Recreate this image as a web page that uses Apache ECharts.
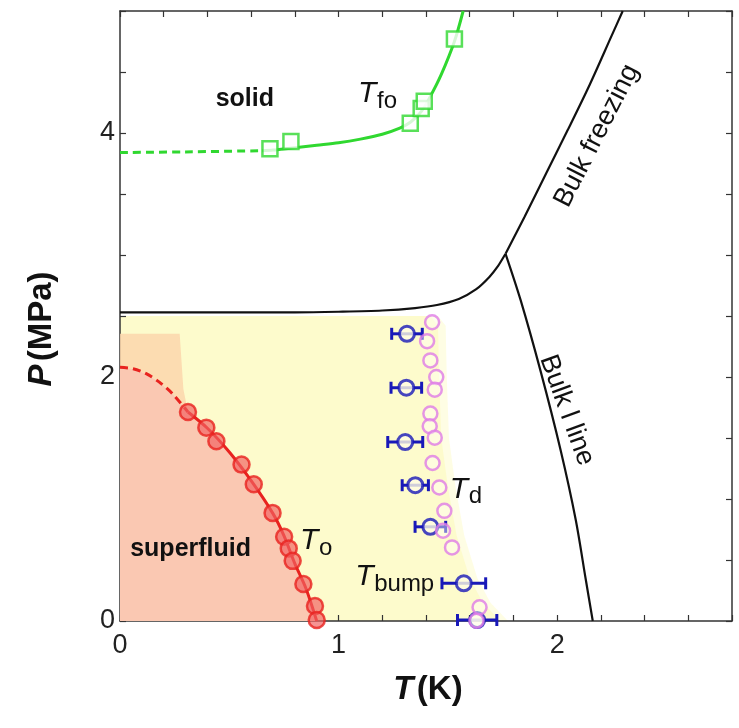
<!DOCTYPE html>
<html>
<head>
<meta charset="utf-8">
<script src="https://cdn.jsdelivr.net/npm/echarts@6/dist/echarts.min.js"></script>
<style>
  html, body { margin: 0; padding: 0; background: #fff; }
  #chart { width: 739px; height: 728px; }
</style>
</head>
<body>
<div id="chart"></div>
<script>
// ---------- axis ticks ----------
const xTickLabels = [0, 1, 2];
const yTickLabels = [0, 2, 4];

// ---------- T_fo : freezing onset (open squares) ----------
const tfoT = [0.686, 0.782, 1.328, 1.378, 1.392, 1.530];
const tfoP = [3.87, 3.93, 4.08, 4.20, 4.26, 4.77];
const tfoDashT = [0, 0.30, 0.65];
const tfoDashP = [3.84, 3.845, 3.855];
const tfoLineT = [0.65, 0.70, 0.80, 0.90, 1.00, 1.10, 1.20, 1.28, 1.33, 1.38, 1.42, 1.47, 1.53, 1.57];
const tfoLineP = [3.855, 3.86, 3.88, 3.90, 3.92, 3.95, 3.99, 4.04, 4.09, 4.18, 4.30, 4.48, 4.75, 5.00];

// ---------- T_o : superfluid onset (filled circles) ----------
const toT = [0.311, 0.395, 0.441, 0.556, 0.612, 0.698, 0.751, 0.772, 0.790, 0.839, 0.892, 0.900];
const toP = [1.713, 1.585, 1.473, 1.282, 1.121, 0.886, 0.690, 0.595, 0.493, 0.303, 0.123, 0.008];
const toDashT = [0, 0.06, 0.12, 0.18, 0.24, 0.311];
const toDashP = [2.08, 2.068, 2.027, 1.958, 1.863, 1.713];
const toLineT = [0.311, 0.40, 0.50, 0.60, 0.70, 0.75, 0.80, 0.85, 0.90];
const toLineP = [1.713, 1.58, 1.385, 1.15, 0.88, 0.70, 0.47, 0.27, 0.0];

// ---------- T_d (open circles) ----------
const tdT = [1.428, 1.405, 1.420, 1.447, 1.440, 1.420, 1.417, 1.440, 1.430, 1.461, 1.484, 1.478, 1.519, 1.645, 1.631];
const tdP = [2.449, 2.294, 2.136, 1.999, 1.896, 1.700, 1.596, 1.503, 1.295, 1.094, 0.903, 0.740, 0.603, 0.112, 0.002];

// ---------- T_bump (open circles with horizontal error) ----------
const tbT = [1.313, 1.310, 1.305, 1.351, 1.420, 1.573, 1.634];
const tbP = [2.354, 1.912, 1.467, 1.113, 0.772, 0.309, 0.008];
const tbErr = [0.07, 0.07, 0.08, 0.06, 0.07, 0.10, 0.09];

// ---------- bulk 4He phase boundaries ----------
const meltT = [0, 0.80, 1.00, 1.20, 1.35, 1.45, 1.55, 1.63, 1.69, 1.73, 1.764];
const meltP = [2.53, 2.53, 2.535, 2.545, 2.565, 2.59, 2.64, 2.72, 2.82, 2.91, 3.01];
const freezeT = [1.764, 1.85, 1.95, 2.05, 2.15, 2.25, 2.30];
const freezeP = [3.01, 3.31, 3.67, 4.03, 4.40, 4.80, 5.00];
const lambdaT = [1.764, 1.833, 1.924, 2.016, 2.085, 2.131, 2.163];
const lambdaP = [3.01, 2.63, 2.05, 1.40, 0.83, 0.34, 0.0];

// ---------- shaded regions ----------
const yellowT = [0, 0, 1.42, 1.455, 1.46, 1.47, 1.50, 1.54, 1.60, 1.66, 1.74];
const yellowP = [0, 2.50, 2.50, 2.42, 2.00, 1.50, 1.10, 0.70, 0.35, 0.15, 0];
const blockT = [0, 0, 0.273, 0.29, 0.311];
const blockP = [2.08, 2.355, 2.355, 1.90, 1.713];

// ---------- styling ----------
const FONT = '"Liberation Sans", Arial, sans-serif';
const GREEN = '#30d830';
const RED = '#e8231f';
const BLUE = '#1818b8';
const PINK = '#de7ce6';
const BLACK = '#111';

const pairs = (ts, ps) => ts.map((t, i) => [t, ps[i]]);
const isTick = (list) => (v) => {
  const r = Math.round(v * 1000) / 1000;
  return list.indexOf(r) >= 0 ? String(r) : '';
};

function polygonSeries(pts, fill, z) {
  return {
    type: 'custom', z: z, silent: true, clip: true,
    data: [[0, 0]],
    renderItem: (params, api) => ({
      type: 'polygon',
      shape: { points: pts.map(p => api.coord(p)) },
      style: { fill: fill }
    })
  };
}

function lineSeries(pts, color, dashed, width) {
  return {
    type: 'line', data: pts, symbol: 'none', smooth: 0.3, silent: true, z: 3,
    lineStyle: { color: color, width: width || 3, type: dashed ? [8, 5] : 'solid' }
  };
}

const yellowPts = pairs(yellowT, yellowP);
const yellowSoft = yellowPts.map(([t, p]) => [t === 0 ? t : t + 0.035, p]);
const salmonPts = [[0, 0]].concat(pairs(toDashT, toDashP), pairs(toLineT, toLineP).slice(1));
const blockPts = pairs(blockT, blockP).concat(pairs(toDashT, toDashP).reverse().slice(1));

const axisBase = {
  type: 'value',
  axisLine: { show: true, onZero: false, lineStyle: { color: '#333', width: 1.5 } },
  axisTick: { show: true, inside: true, length: 6, lineStyle: { color: '#333', width: 1.2 } },
  splitLine: { show: false }
};

const chart = echarts.init(document.getElementById('chart'), null, { renderer: 'canvas' });

chart.setOption({
  animation: false,
  backgroundColor: '#fff',
  grid: { left: 120, top: 11, right: 7, bottom: 107 },
  xAxis: [
    Object.assign({}, axisBase, {
      min: 0, max: 2.8, interval: 0.2, position: 'bottom',
      axisLabel: { formatter: isTick(xTickLabels), fontSize: 27, color: '#222', fontFamily: FONT, margin: 11 }
    }),
    Object.assign({}, axisBase, {
      min: 0, max: 2.8, interval: 0.2, position: 'top', axisLabel: { show: false }
    })
  ],
  yAxis: [
    Object.assign({}, axisBase, {
      min: 0, max: 5, interval: 0.5, position: 'left',
      axisLabel: { formatter: isTick(yTickLabels), fontSize: 27, color: '#222', fontFamily: FONT, margin: 5 }
    }),
    Object.assign({}, axisBase, {
      min: 0, max: 5, interval: 0.5, position: 'right', axisLabel: { show: false }
    })
  ],
  series: [
    polygonSeries(yellowSoft, 'rgba(253,251,205,0.55)', 0),
    polygonSeries(yellowPts, 'rgb(253,251,204)', 0),
    polygonSeries(blockPts, 'rgba(251,214,172,0.85)', 1),
    polygonSeries(salmonPts, 'rgb(250,200,178)', 1),

    lineSeries(pairs(meltT, meltP), BLACK, false, 2.2),
    lineSeries(pairs(freezeT, freezeP), BLACK, false, 2.2),
    lineSeries(pairs(lambdaT, lambdaP), BLACK, false, 2.2),

    lineSeries(pairs(tfoDashT, tfoDashP), GREEN, true),
    lineSeries(pairs(tfoLineT, tfoLineP), GREEN, false),
    lineSeries(pairs(toDashT, toDashP), RED, true),
    lineSeries(pairs(toLineT, toLineP), RED, false),

    {
      type: 'scatter', data: pairs(tfoT, tfoP), symbol: 'rect', symbolSize: 15, clip: false, z: 5,
      itemStyle: { color: '#fff', borderColor: GREEN, borderWidth: 2.5 }
    },
    {
      type: 'scatter', data: pairs(toT, toP), symbol: 'circle', symbolSize: 16, clip: false, z: 5,
      itemStyle: { color: 'rgba(240,96,96,0.85)', borderColor: RED, borderWidth: 2.5 }
    },
    {
      type: 'custom', z: 5, clip: false,
      data: tbT.map((t, i) => [t, tbP[i], tbErr[i]]),
      encode: { x: 0, y: 1 },
      renderItem: (params, api) => {
        const t = api.value(0), p = api.value(1), e = api.value(2);
        const a = api.coord([t - e, p]), b = api.coord([t + e, p]);
        const h = 6, st = { stroke: BLUE, lineWidth: 3 };
        return {
          type: 'group', children: [
            { type: 'line', shape: { x1: a[0], y1: a[1], x2: b[0], y2: b[1] }, style: st },
            { type: 'line', shape: { x1: a[0], y1: a[1] - h, x2: a[0], y2: a[1] + h }, style: st },
            { type: 'line', shape: { x1: b[0], y1: b[1] - h, x2: b[0], y2: b[1] + h }, style: st }
          ]
        };
      }
    },
    {
      type: 'scatter', data: pairs(tbT, tbP), symbol: 'circle', symbolSize: 15, clip: false, z: 6,
      itemStyle: { color: '#fffde2', borderColor: BLUE, borderWidth: 3 }
    },
    {
      type: 'scatter', data: pairs(tdT, tdP), symbol: 'circle', symbolSize: 14, clip: false, z: 7,
      itemStyle: { color: 'rgba(255,255,245,0.55)', borderColor: PINK, borderWidth: 2.5 }
    }
  ]
});

// ---------- text annotations ----------
const toPx = (t, p) => chart.convertToPixel({ xAxisIndex: 0, yAxisIndex: 0 }, [t, p]);

function plain(text, at, font, rotation) {
  const [x, y] = toPx(at[0], at[1]);
  return {
    type: 'text', x: x, y: y, rotation: rotation || 0, z: 20,
    style: { text: text, font: font, fill: BLACK, align: 'center', verticalAlign: 'middle' }
  };
}

function symbolLabel(sub, at) {
  const [x, y] = toPx(at[0], at[1]);
  return [
    { type: 'text', x: x, y: y, z: 20,
      style: { text: 'T', font: 'italic 30px ' + FONT, fill: BLACK, align: 'left', verticalAlign: 'middle' } },
    { type: 'text', x: x + 19, y: y + 7, z: 20,
      style: { text: sub, font: '24px ' + FONT, fill: BLACK, align: 'left', verticalAlign: 'middle' } }
  ];
}

const graphics = [
  plain('solid', [0.571, 4.28], 'bold 25px ' + FONT),
  plain('superfluid', [0.323, 0.589], 'bold 25px ' + FONT),
  plain('Bulk freezing', [2.181, 3.977], '27px ' + FONT, 63 * Math.PI / 180),
  plain('Bulk l line', [2.044, 1.727], '27px ' + FONT, -70 * Math.PI / 180)
].concat(
  symbolLabel('fo', [1.089, 4.32]),
  symbolLabel('o', [0.823, 0.655]),
  symbolLabel('d', [1.509, 1.08]),
  symbolLabel('bump', [1.076, 0.36])
);

// axis titles
const titleRich = {
  i: { font: 'italic bold 33px ' + FONT, fill: BLACK },
  b: { font: 'bold 33px ' + FONT, fill: BLACK }
};
graphics.push({
  type: 'text', x: 428, y: 690, z: 20,
  style: { text: '{i|T} {b|(K)}', align: 'center', verticalAlign: 'middle', rich: titleRich }
});
graphics.push({
  type: 'text', x: 42, y: 329, z: 20, rotation: Math.PI / 2,
  style: { text: '{i|P} {b|(MPa)}', align: 'center', verticalAlign: 'middle', rich: titleRich }
});

chart.setOption({ graphic: graphics });
</script>
</body>
</html>
